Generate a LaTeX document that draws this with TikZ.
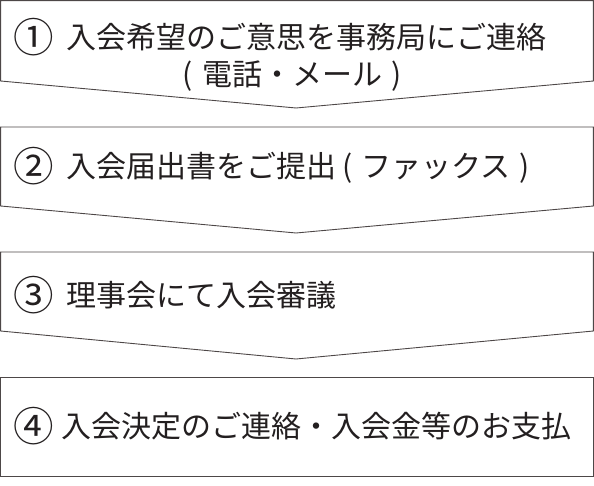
\documentclass[tikz,border=0pt]{standalone}
\usepackage{fontspec}
\usepackage{graphicx}
\newfontfamily\jpfont{Noto Sans CJK JP}
\definecolor{edge}{HTML}{4D4747}
\definecolor{ink}{HTML}{231F20}
\newcommand{\bignum}[1]{\raisebox{-4pt}{\scalebox{1.35}{#1}}}
\begin{document}
\begin{tikzpicture}[x=1pt,y=-1pt,
  stepshape/.style={draw=edge,line width=0.9pt,line join=miter},
  label/.style={anchor=base west,inner sep=0pt,text=ink,font=\jpfont\fontsize{30}{36}\selectfont},
  sublabel/.style={anchor=base,inner sep=0pt,text=ink,font=\jpfont\fontsize{30}{36}\selectfont}]
\useasboundingbox (0,0) rectangle (594,486);
% step shapes
\draw[stepshape] (0.6,0.6) -- (593.4,0.6) -- (593.4,81) -- (296,108) -- (0.6,81) -- cycle;
\draw[stepshape] (0.6,127) -- (593.4,127) -- (593.4,206) -- (296,233) -- (0.6,206) -- cycle;
\draw[stepshape] (0.6,252) -- (593.4,252) -- (593.4,331) -- (296,359) -- (0.6,331) -- cycle;
\draw[stepshape] (0.6,377) rectangle (593.4,476);
% texts
\node[label] (t1) at (13,49) {\bignum{①}\hspace{13pt}入会希望のご意思を事務局にご連絡};
\node[sublabel] (t1b) at (292,86) {(\hspace{9pt}電話・メール\hspace{9pt})};
\node[label] (t2) at (13,178) {\bignum{②}\hspace{13pt}入会届出書をご提出\hspace{6pt}(\hspace{9pt}ファックス\hspace{9pt})};
\node[label] (t3) at (13,306) {\bignum{③}\hspace{13pt}理事会にて入会審議};
\node[label] (t4) at (13,437) {\bignum{④}\hspace{8pt}入会決定のご連絡・入会金等のお支払};
\end{tikzpicture}
\end{document}
